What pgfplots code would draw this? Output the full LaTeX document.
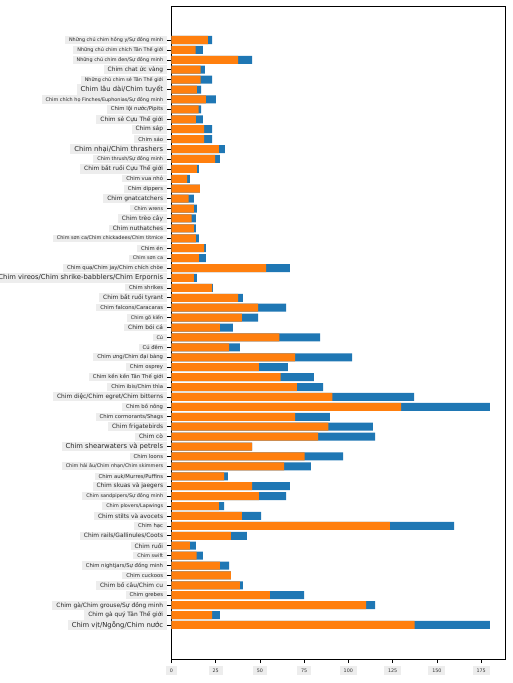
\documentclass[border=0pt]{standalone}
\usepackage{pgfplots}
\pgfplotsset{compat=1.18}
\usepackage{pgfplotstable}
\usepackage{fontspec}
\setmainfont{DejaVu Sans}
\definecolor{cblue}{HTML}{1F77B4}
\definecolor{corange}{HTML}{FF7F0E}
\newcommand\A{\fontsize{4.9}{5.5}\selectfont}
\newcommand\B{\fontsize{5.3}{6}\selectfont}
\newcommand\C{\fontsize{5.9}{7}\selectfont}
\newcommand\D{\fontsize{6.8}{8}\selectfont}
\pgfplotstableread{
y mn mx
0 137.5 180.0
1 23.0 27.5
2 110.0 115.1
3 55.7 75.0
4 38.8 40.5
5 33.7 33.7
6 27.5 32.6
7 14.3 17.9
8 10.5 13.9
9 33.7 42.7
10 123.5 159.7
11 39.9 50.7
12 26.9 29.8
13 49.5 64.8
14 45.6 67.0
15 29.8 32.0
16 63.7 78.9
17 75.3 97.0
18 45.6 45.6
19 82.9 115.1
20 88.7 113.9
21 69.9 89.6
22 129.8 180.0
23 91.0 137.1
24 71.0 85.7
25 61.8 80.6
26 49.5 65.9
27 69.9 102.1
28 32.6 38.8
29 61.0 84.0
30 27.5 34.8
31 39.9 49.0
32 49.0 64.8
33 37.7 40.5
34 23.0 23.5
35 12.8 14.5
36 53.5 67.0
37 15.6 19.6
38 18.5 19.6
39 13.9 15.6
40 12.8 13.9
41 11.5 13.9
42 12.8 14.5
43 9.8 12.8
44 16.2 16.2
45 8.9 10.5
46 14.5 15.6
47 24.7 27.5
48 26.9 30.3
49 18.5 23.0
50 18.5 23.0
51 13.9 17.9
52 15.4 16.8
53 19.6 25.2
54 14.5 16.8
55 16.6 23.0
56 16.6 19.0
57 37.7 45.6
58 13.7 17.9
59 20.7 23.0
}\birds
\begin{document}
\begin{tikzpicture}
\useasboundingbox (-171.3pt,-24pt) rectangle (340.7pt,659pt);
\begin{axis}[
  at={(0,0)}, anchor=south west,
  scale only axis, width=333.7pt, height=653pt,
  xmin=0, xmax=188.5, ymin=-3.43, ymax=62.43,
  xbar, bar width=8pt, bar shift=0pt,
  axis line style={black, line width=0.8pt},
  tick align=outside, tick pos=left,
  major tick length=4pt,
  tick style={black, line width=0.6pt},
  xtick={0,25,50,75,100,125,150,175},
  ytick={0,...,59},
  /pgf/number format/assume math mode=true,
  xticklabel style={font=\fontsize{4.8}{5}\selectfont, fill=black!7, inner xsep=4pt, inner ysep=2.5pt, text=black!80, yshift=-3pt},
  yticklabel style={fill=black!7, inner xsep=4pt, inner ysep=1.5pt, text=black!85},
  yticklabels={
{\D Chim vịt/Ngỗng/Chim nước},
{\C Chim gà quý Tân Thế giới},
{\C Chim gà/Chim grouse/Sự đồng minh},
{\B Chim grebes},
{\C Chim bồ câu/Chim cu},
{\B Chim cuckoos},
{\B Chim nightjars/Sự đồng minh},
{\A Chim swift},
{\C Chim ruồi},
{\C Chim rails/Gallinules/Coots},
{\B Chim hạc},
{\C Chim stilts và avocets},
{\A Chim plovers/Lapwings},
{\A Chim sandpipers/Sự đồng minh},
{\C Chim skuas và jaegers},
{\B Chim auk/Murres/Puffins},
{\A Chim hải âu/Chim nhạn/Chim skimmers},
{\B Chim loons},
{\D Chim shearwaters và petrels},
{\C Chim cò},
{\C Chim frigatebirds},
{\B Chim cormorants/Shags},
{\B Chim bồ nông},
{\C Chim diệc/Chim egret/Chim bitterns},
{\B Chim ibis/Chim thìa},
{\B Chim kền kền Tân Thế giới},
{\B Chim osprey},
{\B Chim ưng/Chim đại bàng},
{\B Cú đêm},
{\A Cú},
{\C Chim bói cá},
{\A Chim gõ kiến},
{\B Chim falcons/Caracaras},
{\C Chim bắt ruồi tyrant},
{\B Chim shrikes},
{\D Chim vireos/Chim shrike-babblers/Chim Erpornis},
{\B Chim quạ/Chim jay/Chim chích chòe},
{\A Chim sơn ca},
{\B Chim én},
{\A Chim sơn ca/Chim chickadees/Chim titmice},
{\C Chim nuthatches},
{\C Chim trèo cây},
{\A Chim wrens},
{\C Chim gnatcatchers},
{\B Chim dippers},
{\B Chim vua nhỏ},
{\C Chim bắt ruồi Cựu Thế giới},
{\A Chim thrush/Sự đồng minh},
{\D Chim nhại/Chim thrashers},
{\B Chim sáo},
{\C Chim sáp},
{\C Chim sẻ Cựu Thế giới},
{\B Chim lội nước/Pipits},
{\A Chim chích họ Finches/Euphonias/Sự đồng minh},
{\D Chim lâu dài/Chim tuyết},
{\A Những chú chim sẻ Tân Thế giới},
{\C Chim chat ức vàng},
{\A Những chú chim đen/Sự đồng minh},
{\A Những chú chim chích Tân Thế giới},
{\A Những chú chim hồng y/Sự đồng minh}
  },
]
\addplot[fill=cblue, draw=none] table[x=mx, y=y] {\birds};
\addplot[fill=corange, draw=none] table[x=mn, y=y] {\birds};
\end{axis}
\end{tikzpicture}
\end{document}
